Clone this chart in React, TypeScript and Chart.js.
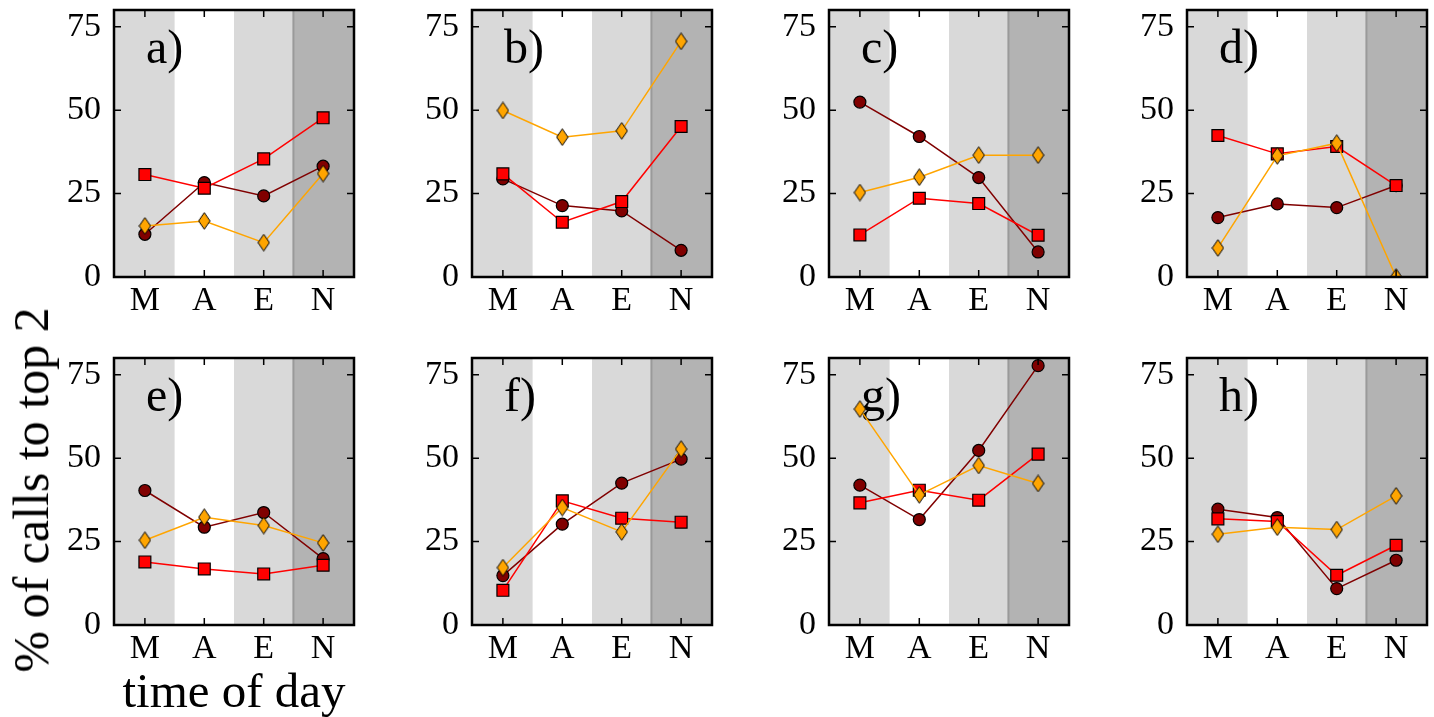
import React, { useEffect, useRef } from 'react';
import { Chart, registerables } from 'chart.js';

Chart.register(...registerables);

// ---------- data ----------
const categories = ['M', 'A', 'E', 'N'];
const yTicks = [0, 25, 50, 75];
const panelLabels = ['a)', 'b)', 'c)', 'd)', 'e)', 'f)', 'g)', 'h)'];
const shadeEdges = [0.5, 1.5, 2.5];

// circles (dark red), one row per panel a..h, values for M, A, E, N
const circleData = [
  [12.8, 28.3, 24.3, 33.2],
  [29.4, 21.4, 19.8, 8.0],
  [52.4, 42.1, 29.8, 7.5],
  [17.8, 21.9, 20.8, 27.4],
  [40.3, 29.3, 33.7, 19.9],
  [14.8, 30.2, 42.5, 49.7],
  [41.9, 31.6, 52.3, 77.7],
  [34.7, 32.2, 10.9, 19.4],
];

// squares (red)
const squareData = [
  [30.7, 26.6, 35.4, 47.7],
  [30.9, 16.4, 22.6, 45.1],
  [12.6, 23.6, 22.0, 12.5],
  [42.4, 36.9, 39.1, 27.4],
  [18.9, 16.8, 15.3, 17.9],
  [10.4, 37.2, 32.0, 30.8],
  [36.6, 40.4, 37.4, 51.2],
  [31.8, 31.0, 14.9, 23.9],
];

// diamonds (orange)
const diamondData = [
  [15.3, 16.8, 10.3, 31.0],
  [49.9, 41.9, 43.8, 70.6],
  [25.3, 29.9, 36.5, 36.5],
  [8.7, 36.3, 40.1, 0.0],
  [25.4, 32.3, 29.8, 24.6],
  [17.2, 35.2, 27.9, 52.7],
  [64.7, 39.0, 47.8, 42.4],
  [27.2, 29.3, 28.6, 38.7],
];

// ---------- styling / layout ----------
const FONT = "'Liberation Serif', 'Times New Roman', serif";
const MAROON = '#800000';
const RED = '#ff0000';
const ORANGE = '#ffa500';
const LIGHT = '#d9d9d9';
const DARK = '#b3b3b3';

const PANEL_LEFTS = [114, 472, 829, 1187];
const PANEL_TOPS = [10, 358];
const PANEL_W = 240;
const PANEL_H = 267;
const ML = 70;
const MT = 40;
const MR = 30;
const MB = 45;
const XMIN = -0.52;
const XMAX = 3.52;

function makeDiamond(): HTMLCanvasElement {
  const c = document.createElement('canvas');
  c.width = 13;
  c.height = 18;
  const g = c.getContext('2d')!;
  g.beginPath();
  g.moveTo(6.5, 0.7);
  g.lineTo(12.2, 9);
  g.lineTo(6.5, 17.3);
  g.lineTo(0.8, 9);
  g.closePath();
  g.fillStyle = ORANGE;
  g.fill();
  g.lineWidth = 1;
  g.strokeStyle = '#000';
  g.stroke();
  return c;
}

function Panel({ idx }: { idx: number }) {
  const ref = useRef<HTMLCanvasElement | null>(null);
  const col = idx % 4;
  const row = Math.floor(idx / 4);
  const left = PANEL_LEFTS[col] - ML;
  const top = PANEL_TOPS[row] - MT;
  const w = ML + PANEL_W + MR;
  const h = MT + PANEL_H + MB;

  useEffect(() => {
    const canvas = ref.current;
    if (!canvas) return;
    const label = panelLabels[idx];
    const deco = {
      id: 'panelDeco',
      beforeDatasetsDraw(chart: any) {
        const { ctx, chartArea: ca } = chart;
        const x = chart.scales.x;
        const b = shadeEdges.map((v) => x.getPixelForValue(v));
        ctx.save();
        ctx.fillStyle = '#ffffff';
        ctx.fillRect(ca.left, ca.top, ca.right - ca.left, ca.bottom - ca.top);
        ctx.fillStyle = LIGHT;
        ctx.fillRect(ca.left, ca.top, b[0] - ca.left, ca.bottom - ca.top);
        ctx.fillRect(b[1], ca.top, b[2] - b[1], ca.bottom - ca.top);
        ctx.fillStyle = DARK;
        ctx.fillRect(b[2], ca.top, ca.right - b[2], ca.bottom - ca.top);
        ctx.strokeStyle = '#9a9a9a';
        ctx.lineWidth = 2;
        ctx.beginPath();
        ctx.moveTo(b[2], ca.top);
        ctx.lineTo(b[2], ca.bottom);
        ctx.stroke();
        ctx.fillStyle = '#000';
        ctx.font = `48px ${FONT}`;
        ctx.textBaseline = 'alphabetic';
        ctx.textAlign = 'left';
        ctx.fillText(label, ca.left + 32, ca.top + 53);
        ctx.restore();
      },
      afterDatasetsDraw(chart: any) {
        const { ctx, chartArea: ca } = chart;
        const x = chart.scales.x;
        const y = chart.scales.y;
        ctx.save();
        ctx.strokeStyle = '#000';
        ctx.lineWidth = 1.5;
        ctx.beginPath();
        categories.forEach((_, k) => {
          const px = x.getPixelForValue(k);
          ctx.moveTo(px, ca.bottom);
          ctx.lineTo(px, ca.bottom - 7);
          ctx.moveTo(px, ca.top);
          ctx.lineTo(px, ca.top + 7);
        });
        yTicks.forEach((v) => {
          const py = y.getPixelForValue(v);
          ctx.moveTo(ca.left, py);
          ctx.lineTo(ca.left + 7, py);
          ctx.moveTo(ca.right, py);
          ctx.lineTo(ca.right - 7, py);
        });
        ctx.stroke();
        ctx.lineWidth = 2.5;
        ctx.strokeRect(ca.left, ca.top, ca.right - ca.left, ca.bottom - ca.top);
        ctx.restore();
      },
    };

    const toPts = (arr: number[]) => arr.map((v, k) => ({ x: k, y: v }));
    const diamond = makeDiamond();

    const chart = new Chart(canvas, {
      type: 'line',
      data: {
        datasets: [
          {
            label: 'diamond',
            data: toPts(diamondData[idx]),
            borderColor: ORANGE,
            backgroundColor: ORANGE,
            borderWidth: 1.5,
            pointStyle: diamond as any,
            pointRadius: 8,
            pointBackgroundColor: ORANGE,
            pointBorderColor: '#000',
            pointBorderWidth: 1,
            tension: 0,
            clip: 0 as any,
          },
          {
            label: 'square',
            data: toPts(squareData[idx]),
            borderColor: RED,
            backgroundColor: RED,
            borderWidth: 1.5,
            pointStyle: 'rect',
            pointRadius: 8.4,
            pointBackgroundColor: RED,
            pointBorderColor: '#000',
            pointBorderWidth: 1.2,
            tension: 0,
            clip: 0 as any,
          },
          {
            label: 'circle',
            data: toPts(circleData[idx]),
            borderColor: MAROON,
            backgroundColor: MAROON,
            borderWidth: 1.5,
            pointStyle: 'circle',
            pointRadius: 6,
            pointBackgroundColor: MAROON,
            pointBorderColor: '#000',
            pointBorderWidth: 1.2,
            tension: 0,
            clip: 0 as any,
          },
        ],
      },
      options: {
        responsive: false,
        animation: false,
        events: [],
        layout: { padding: { top: MT, right: MR, left: 0, bottom: 0 } },
        plugins: {
          legend: { display: false },
          tooltip: { enabled: false },
          title: { display: false },
        },
        scales: {
          x: {
            type: 'linear',
            min: XMIN,
            max: XMAX,
            afterBuildTicks: (s: any) => {
              s.ticks = categories.map((_, k) => ({ value: k }));
            },
            afterFit: (s: any) => {
              s.height = MB;
            },
            ticks: {
              callback: (v: any) => categories[Math.round(Number(v))] ?? '',
              font: { family: FONT, size: 34 },
              color: '#000',
              padding: -4,
              maxRotation: 0,
              autoSkip: false,
            },
            grid: { display: false },
            border: { display: false },
          },
          y: {
            type: 'linear',
            min: 0,
            max: 80,
            afterBuildTicks: (s: any) => {
              s.ticks = yTicks.map((v) => ({ value: v }));
            },
            afterFit: (s: any) => {
              s.width = ML;
            },
            ticks: {
              font: { family: FONT, size: 34 },
              color: '#000',
              padding: 5,
              autoSkip: false,
            },
            grid: { display: false },
            border: { display: false },
          },
        },
      },
      plugins: [deco],
    });
    return () => chart.destroy();
  }, [idx]);

  return (
    <canvas
      ref={ref}
      width={w}
      height={h}
      style={{ position: 'absolute', left, top, width: w, height: h }}
    />
  );
}

export default function App() {
  return (
    <div
      style={{
        position: 'absolute',
        left: 0,
        top: 0,
        width: 1434,
        height: 717,
        background: '#fff',
        overflow: 'hidden',
      }}
    >
      {panelLabels.map((_, i) => (
        <Panel key={i} idx={i} />
      ))}
      <div
        style={{
          position: 'absolute',
          left: 31,
          top: 490,
          transform: 'translate(-50%, -50%) rotate(-90deg)',
          whiteSpace: 'nowrap',
          fontFamily: FONT,
          fontSize: 50,
          lineHeight: 1,
          color: '#000',
        }}
      >
        % of calls to top 2
      </div>
      <div
        style={{
          position: 'absolute',
          left: 234,
          top: 666,
          transform: 'translateX(-50%)',
          whiteSpace: 'nowrap',
          fontFamily: FONT,
          fontSize: 49,
          lineHeight: 1,
          color: '#000',
        }}
      >
        time of day
      </div>
    </div>
  );
}
